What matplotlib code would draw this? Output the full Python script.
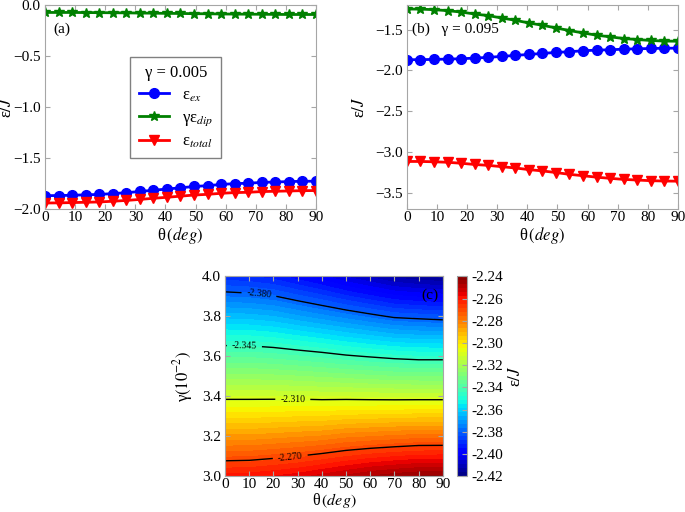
import matplotlib
matplotlib.use('Agg')
import matplotlib.pyplot as plt
import numpy as np

plt.rcParams['font.family'] = ['Liberation Serif', 'DejaVu Serif']
plt.rcParams['mathtext.fontset'] = 'stix'
plt.rcParams['font.size'] = 11
plt.rcParams['xtick.direction'] = 'in'
plt.rcParams['ytick.direction'] = 'in'
plt.rcParams['xtick.top'] = True
plt.rcParams['ytick.right'] = True
plt.rcParams['contour.negative_linestyle'] = 'solid'

## data: energies vs angle
theta = [0, 4.5, 9, 13.5, 18, 22.5, 27, 31.5, 36, 40.5, 45,
         49.5, 54, 58.5, 63, 67.5, 72, 76.5, 81, 85.5, 90]

e_ex = [-1.870, -1.869, -1.866, -1.862, -1.858, -1.850, -1.841, -1.829, -1.817, -1.805, -1.793,
        -1.780, -1.772, -1.760, -1.752, -1.748, -1.740, -1.736, -1.732, -1.729, -1.728]

# gamma = 0.005
dip_a = [-0.072, -0.072, -0.072, -0.073, -0.074, -0.075, -0.076, -0.078, -0.079, -0.081, -0.082,
         -0.084, -0.085, -0.087, -0.088, -0.089, -0.090, -0.091, -0.092, -0.092, -0.092]
tot_a = [-1.942, -1.941, -1.938, -1.935, -1.932, -1.925, -1.917, -1.907, -1.896, -1.886, -1.875,
         -1.864, -1.857, -1.847, -1.840, -1.837, -1.830, -1.827, -1.824, -1.821, -1.820]

# gamma = 0.095
dip_b = [-1.248, -1.249, -1.256, -1.268, -1.285, -1.309, -1.329, -1.358, -1.386, -1.419, -1.447,
         -1.480, -1.512, -1.541, -1.569, -1.589, -1.610, -1.622, -1.634, -1.641, -1.643]
tot_b = [-3.118, -3.118, -3.122, -3.128, -3.140, -3.155, -3.166, -3.182, -3.198, -3.218, -3.234,
         -3.254, -3.276, -3.293, -3.311, -3.325, -3.338, -3.346, -3.354, -3.358, -3.360]

## data: total energy map (rows = gamma, cols = theta)
theta_c = [0, 10, 20, 30, 40, 50, 60, 70, 80, 90]
gamma_c = [3.0, 3.2, 3.4, 3.6, 3.8, 4.0]
e_map = [
    [-2.260, -2.2595, -2.258, -2.256, -2.253, -2.250, -2.247, -2.245, -2.2435, -2.243],
    [-2.286, -2.286, -2.285, -2.284, -2.283, -2.281, -2.280, -2.279, -2.278, -2.278],
    [-2.312, -2.312, -2.312, -2.312, -2.3125, -2.3125, -2.3128, -2.313, -2.313, -2.313],
    [-2.338, -2.338, -2.339, -2.3405, -2.342, -2.344, -2.3455, -2.347, -2.348, -2.348],
    [-2.364, -2.3645, -2.366, -2.369, -2.372, -2.375, -2.378, -2.381, -2.382, -2.383],
    [-2.390, -2.391, -2.393, -2.397, -2.401, -2.406, -2.410, -2.414, -2.416, -2.417],
]
line_levels = [-2.380, -2.345, -2.310, -2.270]
cbar_ticks = [-2.42, -2.40, -2.38, -2.36, -2.34, -2.32, -2.30, -2.28, -2.26, -2.24]

spine_col = '0.65'
fs_tick = 11
fs_lab = 12

def style(ax):
    for s in ax.spines.values():
        s.set_color(spine_col)
    ax.tick_params(colors=spine_col, labelcolor='k', labelsize=fs_tick, pad=3)
    ax.tick_params(axis='x', pad=1.5)
    ax.xaxis.set_label_coords(0.5, -0.08)

fig = plt.figure(figsize=(6.85, 5.12), dpi=100)

## (a)
ax1 = fig.add_axes([0.0657, 0.592, 0.3956, 0.398])
ax1.plot(theta, e_ex, 'b-o', lw=2, ms=7, label=r'ε$_{ex}$')
ax1.plot(theta, dip_a, 'g-*', lw=2, ms=7, label=r'γε$_{dip}$')
ax1.plot(theta, tot_a, 'r-v', lw=2, ms=7, label=r'ε$_{total}$')
ax1.set_xlim(0, 90)
ax1.set_ylim(-2.0, 0.0)
ax1.set_xticks(range(0, 91, 10))
ax1.set_yticks([-2.0, -1.5, -1.0, -0.5, 0.0])
ax1.set_xlabel(r'θ$\,(deg)$', fontsize=fs_lab)
ax1.set_ylabel(r'ε$/J$', fontsize=fs_lab)
ax1.yaxis.set_label_coords(-0.11, 0.5)
ax1.text(0.03, 0.865, '(a)', transform=ax1.transAxes, fontsize=11)
leg = ax1.legend(loc='center', bbox_to_anchor=(0.483, 0.497), title='γ = 0.005',
                 fontsize=12, title_fontsize=12, fancybox=False, framealpha=1,
                 edgecolor='0.5', handlelength=1.8, labelspacing=0.35,
                 handletextpad=0.8, borderpad=0.5)
style(ax1)

## (b)
ax2 = fig.add_axes([0.594, 0.592, 0.3956, 0.398])
ax2.plot(theta, e_ex, 'b-o', lw=2, ms=7)
ax2.plot(theta, dip_b, 'g-*', lw=2, ms=7)
ax2.plot(theta, tot_b, 'r-v', lw=2, ms=7)
ax2.set_xlim(0, 90)
ax2.set_ylim(-3.7, -1.2)
ax2.set_xticks(range(0, 91, 10))
ax2.set_yticks([-3.5, -3.0, -2.5, -2.0, -1.5])
ax2.set_xlabel(r'θ$\,(deg)$', fontsize=fs_lab)
ax2.set_ylabel(r'ε$/J$', fontsize=fs_lab)
ax2.yaxis.set_label_coords(-0.145, 0.5)
ax2.text(0.02, 0.865, '(b)   γ = 0.095', transform=ax2.transAxes, fontsize=11)
style(ax2)

## (c)
ax3 = fig.add_axes([0.3285, 0.07, 0.318, 0.39])
cax = fig.add_axes([0.667, 0.07, 0.0146, 0.39])
TT, GG = np.meshgrid(theta_c, gamma_c)
cf = ax3.contourf(TT, GG, np.array(e_map), levels=np.linspace(-2.42, -2.24, 51), cmap='jet')
cs = ax3.contour(TT, GG, np.array(e_map), levels=line_levels, colors='k', linewidths=1)
ax3.clabel(cs, fmt='%.3f', fontsize=7,
           manual=[(14, 3.91), (8, 3.65), (28, 3.385), (27, 3.09)])
ax3.set_xlim(0, 90)
ax3.set_ylim(3.0, 4.0)
ax3.set_xticks(range(0, 91, 10))
ax3.set_yticks([3.0, 3.2, 3.4, 3.6, 3.8, 4.0])
ax3.set_xlabel(r'θ$\,(deg)$', fontsize=11.5)
ax3.set_ylabel(r'γ$(10^{-2})$', fontsize=fs_lab)
ax3.yaxis.set_label_coords(-0.14, 0.5)
ax3.text(0.98, 0.89, '(c)', transform=ax3.transAxes, fontsize=11, ha='right')
style(ax3)
ax3.tick_params(axis='x', pad=1)
ax3.xaxis.set_label_coords(0.5, -0.075)

cb = fig.colorbar(cf, cax=cax, ticks=cbar_ticks)
cb.outline.set_edgecolor(spine_col)
cb.ax.tick_params(labelsize=fs_tick, colors=spine_col, labelcolor='k')
cb.ax.set_yticklabels(['%.2f' % t for t in cbar_ticks])
cb.set_label(r'ε$/J$', rotation=90, fontsize=fs_lab, labelpad=3)

fig.savefig('out.png', dpi=100)
